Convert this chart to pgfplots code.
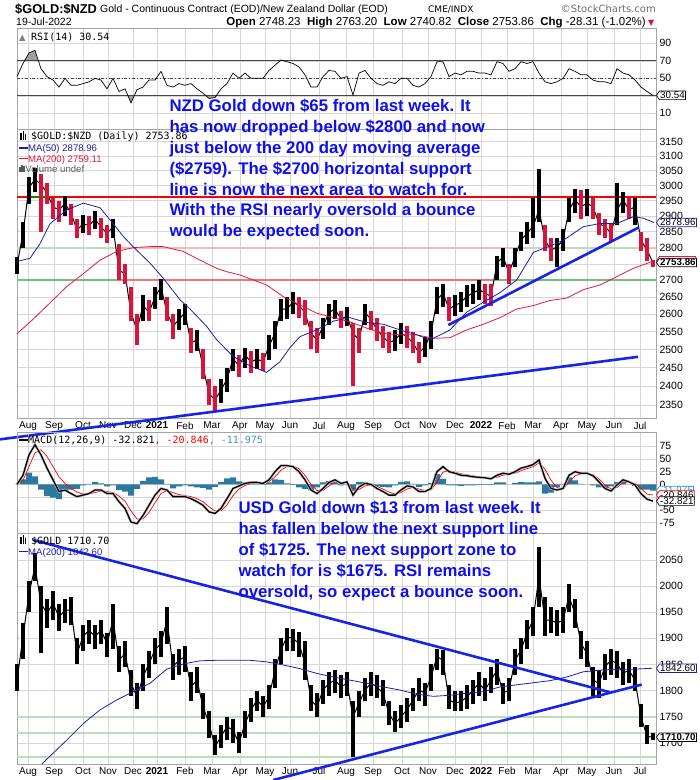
\documentclass[border=0pt]{standalone}
\usepackage{pgfplots}
\pgfplotsset{compat=1.18}
\usepackage{pgfplotstable}
\usepackage{fontspec}
\setmainfont{Liberation Sans}
\newfontfamily\mono{DejaVu Sans Mono}
\newfontfamily\dejavu{DejaVu Sans}
\usetikzlibrary{shapes.symbols}
\newcommand{\fz}[2]{\fontsize{#1bp}{#2bp}\selectfont}

\definecolor{candred}{RGB}{215,20,60}
\definecolor{ma50}{RGB}{30,30,165}
\definecolor{ma200}{RGB}{225,25,60}
\definecolor{trend}{RGB}{25,35,230}
\definecolor{txtblue}{RGB}{15,15,235}
\definecolor{gridc}{RGB}{215,215,215}
\definecolor{framec}{RGB}{165,165,165}
\definecolor{hist}{RGB}{45,120,160}
\definecolor{lgreen}{RGB}{120,190,120}
\definecolor{pgreen}{RGB}{185,222,185}
\definecolor{ppink}{RGB}{245,188,188}
\definecolor{lred}{RGB}{238,118,118}
\definecolor{macdblue}{RGB}{60,150,200}

% NZD gold (weekly samples): k close low high up
\pgfplotstableread{
k c l h u
0 2745 2720 2770 1
1 2845 2800 2880 1
2 2995 2940 3030 1
3 3020 2980 3060 1
4 3005 2850 3040 0
5 2975 2940 3010 0
6 2930 2890 2960 0
7 2920 2880 2950 0
8 2940 2900 2965 1
9 2910 2870 2940 0
10 2855 2830 2890 0
11 2875 2845 2905 1
12 2870 2840 2900 0
13 2890 2860 2915 1
14 2865 2830 2895 0
15 2845 2815 2870 0
16 2865 2830 2890 1
17 2730 2700 2810 0
18 2720 2690 2750 0
19 2603 2580 2680 0
20 2555 2512 2600 0
21 2625 2580 2655 1
22 2605 2580 2640 0
23 2650 2615 2680 1
24 2680 2640 2705 1
25 2605 2580 2650 0
26 2565 2530 2600 0
27 2585 2555 2615 1
28 2605 2570 2630 1
29 2518 2490 2560 0
30 2527 2495 2555 1
31 2453 2420 2500 0
32 2380 2350 2420 0
33 2363 2335 2400 0
34 2390 2355 2420 1
35 2418 2385 2450 1
36 2474 2440 2500 1
37 2455 2425 2485 0
38 2485 2450 2505 1
39 2465 2435 2495 0
40 2474 2445 2500 1
41 2465 2440 2490 0
42 2510 2470 2540 1
43 2545 2500 2580 1
44 2615 2580 2645 1
45 2615 2585 2650 1
46 2635 2600 2665 1
47 2625 2590 2650 0
48 2605 2570 2640 0
49 2545 2500 2580 0
50 2527 2490 2560 0
51 2565 2530 2590 1
52 2605 2570 2630 1
53 2615 2585 2640 1
54 2585 2560 2610 0
55 2595 2565 2620 1
56 2545 2400 2575 0
57 2527 2490 2560 0
58 2605 2570 2630 1
59 2585 2555 2610 0
60 2555 2525 2590 0
61 2536 2505 2565 0
62 2518 2490 2550 0
63 2527 2495 2555 1
64 2545 2515 2575 1
65 2536 2505 2565 0
66 2518 2490 2550 0
67 2490 2462 2520 0
68 2508 2480 2535 1
69 2545 2500 2580 1
70 2642 2600 2680 1
71 2662 2620 2690 1
72 2615 2580 2650 0
73 2625 2595 2655 1
74 2635 2605 2665 1
75 2652 2620 2685 1
76 2662 2630 2690 1
77 2672 2640 2700 1
78 2662 2630 2690 0
79 2652 2625 2690 0
80 2752 2700 2775 1
81 2772 2740 2800 1
82 2722 2690 2750 0
83 2772 2740 2800 1
84 2823 2790 2850 1
85 2845 2810 2880 1
86 2866 2830 2960 1
87 2920 2880 3055 1
88 2823 2790 2870 0
89 2792 2760 2830 0
90 2802 2740 2830 1
91 2823 2790 2860 1
92 2920 2880 2960 1
93 2953 2910 2990 1
94 2930 2890 2985 0
95 2942 2900 2990 1
96 2930 2890 2960 0
97 2876 2840 2910 0
98 2866 2830 2890 0
99 2845 2820 2875 0
100 2920 2870 3010 1
101 2953 2910 2980 1
102 2920 2890 2960 0
103 2930 2870 2960 1
104 2823 2790 2850 0
105 2792 2760 2830 0
106 2754 2740 2763 0
}\nzd

\pgfplotstableread{
k v
0 2757
2.17 2767
3.83 2812
5.5 2875
8.28 2920
11.06 2942
13.83 2927
16.06 2875
17.72 2835
19.39 2802
22.17 2752
24.39 2706
27.17 2642
28.83 2615
31.61 2565
33.28 2527
36.06 2480
38.83 2455
41.61 2437
43.83 2466
45.5 2505
47.17 2536
49.94 2555
52.72 2580
55.5 2590
58.28 2576
61.06 2571
63.83 2555
66.61 2541
68.83 2527
71.06 2545
72.17 2555
74.94 2606
77.72 2635
80.5 2663
83.28 2701
86.06 2785
88.83 2805
91.06 2823
94.39 2866
97.17 2876
99.94 2876
102.72 2898
104.39 2893
106.17 2879
}\nzdmafifty

\pgfplotstableread{
k v
0 2544
2.72 2586
5.5 2633
8.28 2681
11.06 2720
13.83 2761
16.61 2788
19.39 2800
22.17 2803
24.39 2803
27.72 2788
30.5 2761
33.28 2736
34.94 2726
37.17 2716
39.39 2701
41.61 2686
44.39 2651
47.17 2627
49.94 2603
52.72 2590
55.5 2578
58.28 2560
61.06 2545
63.83 2541
66.61 2541
69.39 2531
72.17 2533
74.94 2555
77.72 2571
80.5 2590
83.28 2615
86.06 2625
88.83 2640
91.61 2647
94.39 2672
97.17 2686
99.94 2711
102.72 2736
106.17 2759
}\nzdmatwohundred

% RSI(14)
\pgfplotstableread{
k r
0 52
1 67
2 79
3 82
4 61
5 52
6 48
7 40
8 50
9 42
10 42
11 44
12 46
13 50
14 48
15 38
16 50
17 35
18 38
19 22
20 37
21 40
22 48
23 48
24 58
25 42
26 40
27 44
28 42
29 44
30 38
31 33
32 27
33 28
34 38
35 44
36 56
37 50
38 56
39 50
40 50
41 50
42 59
43 65
44 71
45 69
46 67
47 63
48 54
49 40
50 40
51 52
52 59
53 58
54 50
55 52
56 31
57 56
58 59
59 50
60 44
61 42
62 46
63 44
64 50
65 50
66 42
67 40
68 44
69 52
70 69
71 69
72 52
73 56
74 54
75 58
76 58
77 56
78 56
79 54
80 69
81 67
82 58
83 61
84 69
85 67
86 69
87 56
88 46
89 44
90 46
91 50
92 61
93 58
94 54
95 54
96 48
97 46
98 46
99 44
100 61
101 56
102 54
103 48
104 40
105 35
106 30.54
}\rsi

% MACD(12,26,9): k macd signal histogram
\pgfplotstableread{
k m s h
0 0 0 0
1 18 8 10
2 58 35 23
3 78 62 16
4 58 68 -10
5 32 55 -23
6 9 35 -26
7 -14 15 -29
8 -11 2 -13
9 -18 -8 -10
10 -24 -15 -9
11 -21 -19 -2
12 -18 -19 1
13 -11 -16 5
14 -11 -13 2
15 -18 -14 -4
16 -18 -16 -2
17 -34 -23 -11
18 -47 -33 -14
19 -74 -52 -22
20 -77 -68 -9
21 -61 -68 7
22 -41 -55 14
23 -21 -36 15
24 -8 -18 10
25 -11 -12 1
26 -24 -16 -8
27 -24 -20 -4
28 -24 -22 -2
29 -28 -24 -4
30 -34 -28 -6
31 -41 -34 -7
32 -54 -44 -10
33 -57 -52 -5
34 -47 -52 5
35 -28 -40 12
36 -8 -22 14
37 -3 -9 6
38 2 -2 4
39 4 2 2
40 4 3 1
41 2 3 -1
42 9 5 4
43 25 15 10
44 37 28 9
45 37 35 2
46 35 36 -1
47 25 31 -6
48 9 18 -9
49 -11 0 -11
50 -18 -12 -6
51 -8 -12 4
52 4 -3 7
53 9 5 4
54 2 4 -2
55 5 4 1
56 -21 -8 -13
57 -5 -10 5
58 2 -3 5
59 0 -1 1
60 -8 -4 -4
61 -14 -9 -5
62 -21 -15 -6
63 -21 -19 -2
64 -11 -16 5
65 -3 -9 6
66 -5 -6 1
67 -14 -9 -5
68 -14 -12 -2
69 -8 -11 3
70 25 5 20
71 35 24 11
72 25 27 -2
73 22 24 -2
74 18 21 -3
75 17 19 -2
76 15 17 -2
77 14 15 -1
78 13 14 -1
79 11 12 -1
80 18 14 4
81 22 18 4
82 20 20 0
83 25 22 3
84 32 27 5
85 35 31 4
86 39 35 4
87 48 42 6
88 12 30 -18
89 -8 8 -16
90 -11 -6 -5
91 -8 -9 1
92 18 4 14
93 25 17 8
94 22 21 1
95 22 22 0
96 17 19 -2
97 5 11 -6
98 -8 -1 -7
99 -13 -9 -4
100 -1 -6 5
101 9 3 6
102 5 5 0
103 -1 2 -3
104 -18 -8 -10
105 -29 -19 -10
106 -32.8 -20.8 -12
}\macd

% USD gold: k close low high
\pgfplotstableread{
k c l h
0 1820 1800 1850
1 1903 1860 1930
2 1986 1950 2010
3 2037 2010 2063
4 1967 1871 2000
5 1948 1920 1975
6 1967 1935 1990
7 1941 1915 1965
8 1954 1930 1975
9 1954 1925 1980
10 1871 1850 1900
11 1903 1875 1925
12 1916 1890 1935
13 1903 1880 1925
14 1916 1890 1935
15 1890 1865 1910
16 1935 1880 1965
17 1858 1835 1885
18 1871 1845 1895
19 1814 1790 1840
20 1788 1765 1815
21 1826 1800 1850
22 1852 1825 1875
23 1878 1850 1900
24 1890 1865 1915
25 1935 1890 1960
26 1846 1820 1870
27 1858 1830 1880
28 1865 1835 1885
29 1807 1780 1835
30 1820 1795 1845
31 1769 1745 1795
32 1737 1710 1760
33 1692 1677 1715
34 1712 1690 1735
35 1731 1705 1750
36 1724 1700 1745
37 1699 1680 1720
38 1737 1710 1760
39 1763 1740 1785
40 1782 1760 1800
41 1769 1750 1790
42 1788 1765 1810
43 1839 1805 1860
44 1878 1850 1900
45 1903 1875 1920
46 1900 1875 1918
47 1890 1865 1912
48 1852 1820 1895
49 1782 1760 1810
50 1769 1750 1795
51 1801 1775 1820
52 1814 1790 1835
53 1820 1795 1840
54 1807 1785 1830
55 1814 1790 1835
56 1750 1673 1780
57 1776 1750 1800
58 1801 1780 1825
59 1814 1790 1835
60 1807 1785 1830
61 1795 1770 1820
62 1756 1735 1780
63 1737 1720 1760
64 1750 1728 1772
65 1763 1740 1785
66 1782 1760 1805
67 1801 1780 1825
68 1795 1770 1815
69 1826 1800 1850
70 1865 1840 1880
71 1858 1830 1878
72 1782 1765 1810
73 1776 1760 1800
74 1779 1760 1800
75 1788 1765 1810
76 1801 1775 1820
77 1814 1790 1835
78 1801 1780 1825
79 1820 1795 1845
80 1839 1810 1860
81 1795 1775 1815
82 1801 1780 1825
83 1858 1830 1880
84 1878 1850 1900
85 1910 1880 1935
86 1935 1905 1960
87 2018 1960 2075
88 1935 1905 1980
89 1935 1910 1960
90 1929 1905 1955
91 1935 1910 1960
92 1980 1950 2005
93 1948 1920 1975
94 1890 1860 1915
95 1871 1845 1895
96 1820 1790 1845
97 1814 1785 1840
98 1846 1820 1870
99 1858 1830 1880
100 1852 1825 1875
101 1833 1810 1855
102 1839 1815 1860
103 1820 1800 1845
104 1750 1730 1775
105 1712 1698 1735
106 1711 1705 1718
}\usd

\pgfplotstableread{
k v
4.1 1659
8.28 1705
11.06 1737
13.83 1763
16.61 1782
19.39 1798
22.17 1814
24.94 1841
27.72 1851
30.5 1857
33.28 1858
36.06 1858
38.83 1858
41.61 1855
44.39 1849
47.17 1842
49.94 1833
52.72 1826
55.5 1820
58.28 1814
61.06 1807
63.83 1801
66.61 1793
69.39 1789
72.17 1791
74.94 1795
77.72 1798
80.5 1807
83.28 1811
86.06 1815
88.83 1819
91.61 1826
94.39 1836
97.17 1839
99.94 1841
102.72 1841
105.78 1842.6
}\usdma

\pgfplotsset{
  panel/.style={
    scale only axis, width=639bp, xmin=0, xmax=106.5, clip=false,
    axis line style={draw=framec, line width=0.6bp},
    xtick={1.83,6.17,11,15.17,19.33,23.33,28,32.5,37.17,41.33,45.5,50.33,54.83,59.33,64.17,68.5,73,77.33,81.67,86,90.67,95,99.5,103.83},
    xticklabels={},
    xmajorgrids, ymajorgrids,
    grid style={draw=gridc, line width=0.5bp},
    major tick length=0pt,
    yticklabel pos=right,
    yticklabel style={font=\fz{10.5}{12}, anchor=west},
    xticklabel style={font=\fz{10}{12}},
  },
  months/.style={
    xticklabels={Aug,Sep,Oct,Nov,Dec,\textbf{2021},Feb,Mar,Apr,May,Jun,Jul,Aug,Sep,Oct,Nov,Dec,\textbf{2022},Feb,Mar,Apr,May,Jun,Jul},
  },
  lnline/.style={line width=2bp, forget plot},
}
\tikzset{
  tag/.style={signal, signal to=west, signal pointer angle=110, draw, fill=white, inner sep=0.8bp, line width=0.7bp, anchor=west, font=\fz{9.8}{11}},
}

\begin{document}
\begin{tikzpicture}[x=1bp,y=1bp]
\path[use as bounding box] (0bp,0bp) rectangle (700bp,-780bp);

% ---------------- RSI panel ----------------
\begin{axis}[panel, at={(17bp,-28.5bp)}, anchor=north west, height=100.8bp,
  ymin=-8.3, ymax=107, ytick={10,30,50,70,90}, yticklabels={10,30,50,70,90}]
  \addplot[fill=gray!75, draw=none, forget plot] coordinates {(1.15,70) (2,79) (3,82) (3.45,70)};
  \addplot[fill=gray!75, draw=none, forget plot] coordinates {(18.55,30) (19,22) (19.55,30)};
  \addplot[fill=gray!75, draw=none, forget plot] coordinates {(31.6,30) (32,27) (33,28) (33.4,30)};
  \addplot[gray!55!black, line width=0.8bp, forget plot] coordinates {(0,70) (106.5,70)};
  \addplot[gray!55!black, line width=0.8bp, forget plot] coordinates {(0,30) (106.5,30)};
  \addplot[gray!55!black, line width=0.7bp, dash dot, forget plot] coordinates {(0,50) (106.5,50)};
  \addplot[black, line width=0.7bp] table[x=k, y=r] {\rsi};
  \node[tag, draw=black] at (axis cs:106.5,30.54) {30.54};
\end{axis}

% ---------------- NZD gold panel (logarithmic price scale: y is ln(price)) ----------------
\begin{axis}[panel, months, at={(17bp,-129.3bp)}, anchor=north west, height=289bp,
  ymin=7.747380, ymax=8.068967,
  ytick={7.762171,7.783224,7.803843,7.824046,7.843849,7.863267,7.882315,7.901007,7.919356,7.937375,7.955074,7.972466,7.989560,8.006368,8.022897,8.039157,8.055158},
  yticklabels={2350,2400,2450,2500,2550,2600,2650,2700,2750,2800,2850,2900,2950,3000,3050,3100,3150}]
  % support / resistance lines
  \addplot[pgreen, lnline] table[row sep=\\, x=k, y expr=ln(\thisrow{v})] {k v\\ 0 2800\\ 16.7 2800\\};
  \addplot[ppink, lnline] table[row sep=\\, x=k, y expr=ln(\thisrow{v})] {k v\\ 16.7 2800\\ 83.3 2800\\};
  \addplot[pgreen, lnline] table[row sep=\\, x=k, y expr=ln(\thisrow{v})] {k v\\ 83.3 2800\\ 103.8 2800\\};
  \addplot[ppink, lnline] table[row sep=\\, x=k, y expr=ln(\thisrow{v})] {k v\\ 103.8 2800\\ 106.5 2800\\};
  \addplot[lgreen, lnline] table[row sep=\\, x=k, y expr=ln(\thisrow{v})] {k v\\ 0 2700\\ 16.7 2700\\};
  \addplot[lred, lnline] table[row sep=\\, x=k, y expr=ln(\thisrow{v})] {k v\\ 16.7 2700\\ 79.3 2700\\};
  \addplot[lgreen, lnline] table[row sep=\\, x=k, y expr=ln(\thisrow{v})] {k v\\ 79.3 2700\\ 106.5 2700\\};
  \addplot[red, lnline] table[row sep=\\, x=k, y expr=ln(\thisrow{v})] {k v\\ 0 2963\\ 106.5 2963\\};
  \addplot[green!55!black, lnline] table[row sep=\\, x=k, y expr=ln(\thisrow{v})] {k v\\ 1.7 2963\\ 5.5 2963\\};
  % price: weekly high-low ranges
  \addplot[black, line width=1bp, forget plot] table[x=k, y expr=ln(\thisrow{c})] {\nzd};
  \addplot[draw=none, mark=none, forget plot,
    restrict expr to domain={\thisrow{u}}{0.5:1.5},
    error bars/.cd, y dir=plus, y explicit, error mark=none,
    error bar style={draw=black, line width=3.2bp}]
    table[x=k, y expr=ln(\thisrow{l}), y error expr=ln(\thisrow{h})-ln(\thisrow{l})] {\nzd};
  \addplot[draw=none, mark=none, forget plot,
    restrict expr to domain={\thisrow{u}}{-0.5:0.5},
    error bars/.cd, y dir=plus, y explicit, error mark=none,
    error bar style={draw=candred, line width=3.2bp}]
    table[x=k, y expr=ln(\thisrow{l}), y error expr=ln(\thisrow{h})-ln(\thisrow{l})] {\nzd};
  % moving averages
  \addplot[ma200, line width=0.8bp] table[x=k, y expr=ln(\thisrow{v})] {\nzdmatwohundred};
  \addplot[ma50, line width=0.8bp] table[x=k, y expr=ln(\thisrow{v})] {\nzdmafifty};
  % trend lines
  \addplot[trend, line width=2.6bp] table[row sep=\\, x=k, y expr=ln(\thisrow{v})] {k v\\ -2.83 2262\\ 103.5 2479.5\\};
  \addplot[trend, line width=2.6bp] table[row sep=\\, x=k, y expr=ln(\thisrow{v})] {k v\\ 71.88 2569\\ 103.55 2862.7\\};
  % last-value tags (at ln of 2878.96, 2759.11, 2753.86)
  \node[tag, draw=ma50] at (axis cs:106.5,7.965184) {2878.96};
  \node[tag, draw=ma200] at (axis cs:106.5,7.922663) {\phantom{2759.11}};
  \node[tag, draw=black, font=\bfseries\fz{9.8}{11}] at (axis cs:106.5,7.920759) {2753.86};
\end{axis}

% ---------------- MACD panel ----------------
\begin{axis}[panel, at={(17bp,-432bp)}, anchor=north west, height=101bp,
  ymin=-95.5, ymax=103, ytick={-75,-50,-25,0,25,50,75}, yticklabels={-75,-50,-25,0,25,50,75}]
  \addplot[ybar, bar width=1, bar shift=0pt, fill=hist, draw=none, forget plot] table[x=k, y=h] {\macd};
  \addplot[red, line width=0.7bp] table[x=k, y=s] {\macd};
  \addplot[gray!45, line width=2.6bp] table[x=k, y=m] {\macd};
  \addplot[black, line width=1.3bp] table[x=k, y=m] {\macd};
  \node[tag, draw=macdblue, text=macdblue] at (axis cs:106.5,-11.975) {-11.975};
  \node[tag, draw=red] at (axis cs:106.5,-20.846) {-20.846};
  \node[tag, draw=black] at (axis cs:106.5,-32.821) {-32.821};
\end{axis}

% ---------------- USD gold panel ----------------
\begin{axis}[panel, months, at={(17bp,-533bp)}, anchor=north west, height=231bp,
  ymin=1659.4, ymax=2101.7,
  ytick={1700,1750,1800,1850,1900,1950,2000,2050},
  yticklabels={1700,1750,1800,1850,1900,1950,2000,2050}]
  \addplot[pgreen, line width=2bp, forget plot] coordinates {(0,1750) (106.5,1750)};
  \addplot[pgreen, line width=2bp, forget plot] coordinates {(0,1718) (106.5,1718)};
  \addplot[pgreen, line width=2bp, forget plot] coordinates {(0,1673) (106.5,1673)};
  \addplot[black, line width=1bp, forget plot] table[x=k, y=c] {\usd};
  \addplot[draw=none, mark=none, forget plot,
    error bars/.cd, y dir=plus, y explicit, error mark=none,
    error bar style={draw=black, line width=3.2bp}]
    table[x=k, y=l, y error expr=\thisrow{h}-\thisrow{l}] {\usd};
  \addplot[ma50, line width=0.8bp] table[x=k, y=v] {\usdma};
  \addplot[trend, line width=2.6bp] coordinates {(2.72,2088.3) (98.83,1796.7)};
  \addplot[trend, line width=2.6bp] coordinates {(42.72,1628.8) (104.12,1811.5)};
  \node[tag, draw=ma50] at (axis cs:106.5,1842.6) {1842.60};
  \node[tag, draw=black, font=\bfseries\fz{9.8}{11}] at (axis cs:106.5,1710.7) {1710.70};
\end{axis}

% ---------------- header ----------------
\node[anchor=base west, inner sep=0, font=\bfseries\fz{12.8}{15}] at (15bp,-13.3bp) {\$GOLD:\$NZD};
\node[anchor=base west, inner sep=0, font=\fz{10.5}{12}] at (100bp,-12.4bp) {Gold - Continuous Contract (EOD)/New Zealand Dollar (EOD)};
\node[anchor=base west, inner sep=0, font=\dejavu\fz{9}{11}] at (428bp,-12.4bp) {CME/INDX};
\node[anchor=base east, inner sep=0, text=gray!85!black, font=\dejavu\fz{10}{12}] at (656bp,-12.4bp) {©StockCharts.com};
\node[anchor=base west, inner sep=0, font=\fz{10.5}{12}] at (16bp,-25bp) {19-Jul-2022};
\node[anchor=base east, inner sep=0, font=\fz{11.5}{12}] at (646bp,-25bp) {\textbf{Open} 2748.23\ \ \textbf{High} 2763.20\ \ \textbf{Low} 2740.82\ \ \textbf{Close} 2753.86\ \ \textbf{Chg} -28.31 (-1.02\%)};
\node[anchor=base west, inner sep=0, text=candred, font=\dejavu\fz{8}{10}] at (648bp,-25bp) {▼};

% ---------------- panel legends ----------------
\node[anchor=base west, inner sep=0, text=gray, font=\dejavu\fz{8.5}{10}] at (19bp,-40bp) {▲};
\node[anchor=base west, inner sep=0, font=\mono\fz{10}{12}] at (31bp,-40bp) {RSI(14) 30.54};

\node[anchor=base west, inner sep=0] at (20bp,-139.5bp) {\rule{1.4bp}{7bp}\hspace{1bp}\rule{1.4bp}{9bp}\hspace{1bp}\rule{1.4bp}{6bp}};
\node[anchor=base west, inner sep=0, font=\mono\fz{10}{12}] at (31bp,-139.5bp) {\$GOLD:\$NZD (Daily) 2753.86};
\node[anchor=base west, inner sep=0, text=ma50, font=\fz{9.6}{11}] at (19bp,-151.5bp) {\rule[2.6bp]{9bp}{1.6bp}MA(50) 2878.96};
\node[anchor=base west, inner sep=0, text=ma200, font=\fz{9.6}{11}] at (19bp,-162bp) {\rule[2.6bp]{9bp}{1.6bp}MA(200) 2759.11};
\node[anchor=base west, inner sep=0, text=gray!70!black, font=\fz{9.6}{11}] at (19bp,-172bp) {\rule{1.5bp}{5bp}\hspace{0.6bp}\rule{1.5bp}{7bp}\hspace{0.6bp}\rule{1.5bp}{6bp}\hspace{0.6bp}Volume undef};

\node[anchor=base west, inner sep=0, font=\mono\fz{10}{12}] at (19bp,-443.5bp) {\rule[2.6bp]{9bp}{2bp}MACD(12,26,9) -32.821\textcolor{red}{, -20.846}\textcolor{macdblue}{, -11.975}};

\node[anchor=base west, inner sep=0] at (20bp,-544bp) {\rule{1.4bp}{7bp}\hspace{1bp}\rule{1.4bp}{9bp}\hspace{1bp}\rule{1.4bp}{6bp}};
\node[anchor=base west, inner sep=0, font=\mono\fz{10}{12}] at (31bp,-544bp) {\$GOLD 1710.70};
\node[anchor=base west, inner sep=0, text=ma50, font=\fz{9.6}{11}] at (19bp,-555bp) {\rule[2.6bp]{9bp}{1.6bp}MA(200) 1842.60};

% ---------------- commentary ----------------
\begin{scope}[every node/.style={anchor=base west, inner sep=0, text=txtblue, font=\bfseries\fz{16.8}{20}}]
\node at (169.3bp,-111.4bp) {NZD Gold down \$65 from last week. It};
\node at (169.3bp,-132.3bp) {has now dropped below \$2800 and now};
\node at (169.3bp,-153.2bp) {just below the 200 day moving average};
\node at (169.3bp,-174.1bp) {(\$2759). The \$2700 horizontal support};
\node at (169.3bp,-195.0bp) {line is now the next area to watch for.};
\node at (169.3bp,-215.9bp) {With the RSI nearly oversold a bounce};
\node at (169.3bp,-236.8bp) {would be expected soon.};
\node at (238.3bp,-513.8bp) {USD Gold down \$13 from last week. It};
\node at (238.3bp,-534.8bp) {has fallen below the next support line};
\node at (238.3bp,-555.8bp) {of \$1725. The next support zone to};
\node at (238.3bp,-576.8bp) {watch for is \$1675. RSI remains};
\node at (238.3bp,-597.8bp) {oversold, so expect a bounce soon.};
\end{scope}
\end{tikzpicture}
\end{document}
